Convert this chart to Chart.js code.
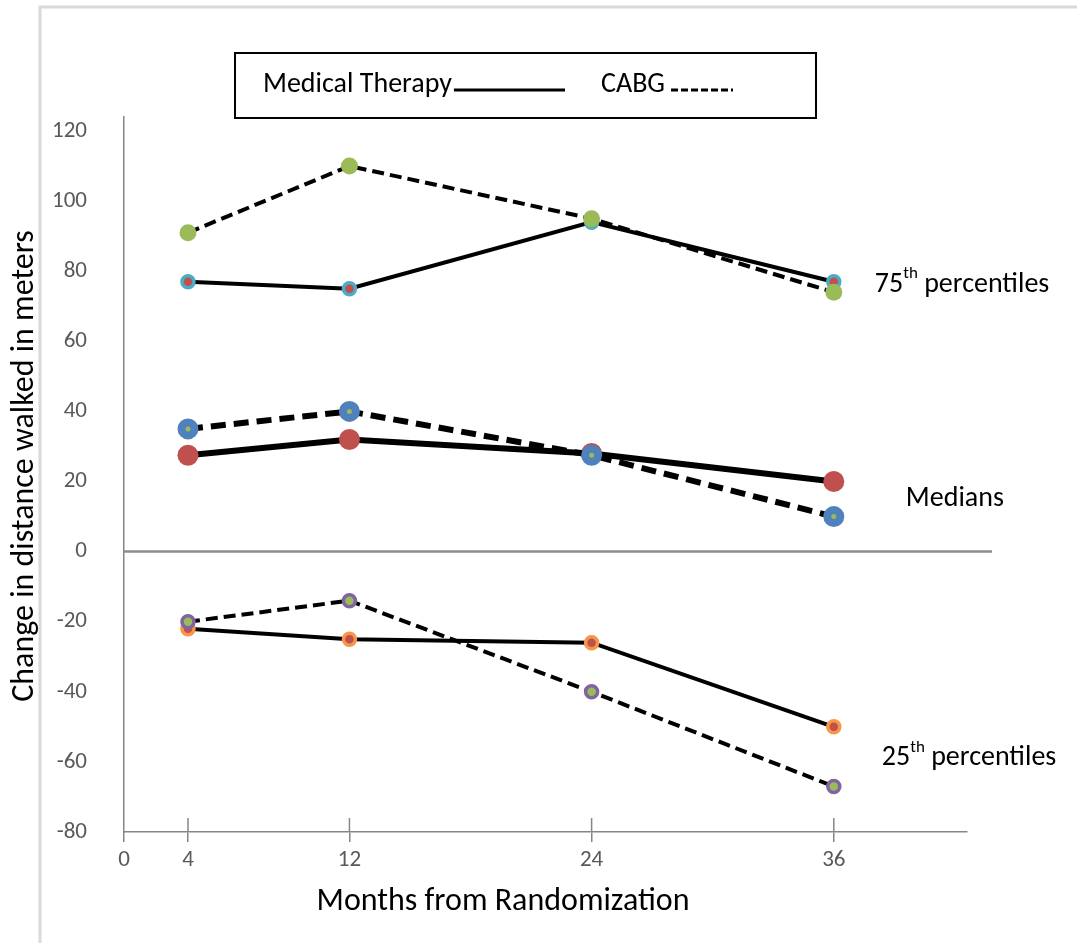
<!DOCTYPE html>
<html>
<head>
<meta charset="utf-8">
<script src="https://cdn.jsdelivr.net/npm/chart.js@4.4.1/dist/chart.umd.min.js"></script>
<style>
    html, body { margin: 0; padding: 0; background: #fff; }
</style>
</head>
<body>
<canvas id="id_walk" width="1077" height="943"></canvas>
<script>
// months after randomization and the values
var months = [4, 12, 24, 36];
var xTickLabels = ["0", "4", "12", "24", "36"];
var yTicks = [-80, -60, -40, -20, 0, 20, 40, 60, 80, 100, 120];

var mt75 = [77, 75, 94, 77];
var cabg75 = [91, 110, 95, 74];
var mtMedian = [27.5, 32, 28, 20];
var cabgMedian = [35, 40, 27.5, 10];
var mt25 = [-22, -25, -26, -50];
var cabg25 = [-20, -14, -40, -67];

(function() {
    "use strict";
    var FONT = "Carlito, Calibri, Lato, sans-serif";
    var AXIS_GRAY = "#868686";

    var points = function(values) {
        return values.map(function(v, i) { return {x: months[i], y: v}; });
    };

    var line = function(values, opts) {
        return Object.assign({
            data: points(values),
            borderColor: "#000",
            fill: false,
            tension: 0
        }, opts);
    };

    var frame = {
        id: "frame",
        beforeDraw: function(chart) {
            var ctx = chart.ctx;
            ctx.save();
            ctx.fillStyle = "#fff";
            ctx.fillRect(0, 0, chart.width, chart.height);
            ctx.strokeStyle = "#d9d9d9";
            ctx.lineWidth = 3;
            ctx.beginPath();
            ctx.moveTo(40, chart.height);
            ctx.lineTo(40, 7);
            ctx.lineTo(chart.width, 7);
            ctx.stroke();
            ctx.restore();
        },
        beforeDatasetsDraw: function(chart) {
            var ctx = chart.ctx, area = chart.chartArea;
            var xs = chart.scales.x, ys = chart.scales.y;
            var y0 = ys.getPixelForValue(0);
            ctx.save();
            // zero line runs a little past the plot
            ctx.strokeStyle = "#8c8c8c";
            ctx.lineWidth = 2.5;
            ctx.beginPath();
            ctx.moveTo(area.left, y0);
            ctx.lineTo(area.right + 25, y0);
            ctx.stroke();
            // x tick marks poke up above the axis too
            ctx.strokeStyle = AXIS_GRAY;
            ctx.lineWidth = 1.5;
            months.forEach(function(m) {
                var px = xs.getPixelForValue(m);
                ctx.beginPath();
                ctx.moveTo(px, area.bottom - 14);
                ctx.lineTo(px, area.bottom);
                ctx.stroke();
            });
            ctx.restore();
        },
        afterDraw: function(chart) {
            var ctx = chart.ctx;
            var xs = chart.scales.x, ys = chart.scales.y;
            ctx.save();

            // axis titles (sit a bit off centre in the original)
            ctx.fillStyle = "#000";
            ctx.textBaseline = "middle";
            ctx.textAlign = "center";
            ctx.font = "32px " + FONT;
            ctx.fillText("Months from Randomization", 503, 902);
            ctx.save();
            ctx.translate(25, 466);
            ctx.rotate(-Math.PI / 2);
            ctx.fillText("Change in distance walked in meters", 0, 0);
            ctx.restore();
            ctx.textAlign = "left";

            // legend box
            ctx.strokeStyle = "#000";
            ctx.lineWidth = 2;
            ctx.strokeRect(235, 53, 581, 65);
            ctx.font = "28px " + FONT;
            ctx.fillText("Medical Therapy", 263, 85);
            var w1 = ctx.measureText("Medical Therapy").width;
            ctx.lineWidth = 3;
            ctx.beginPath();
            ctx.moveTo(263 + w1 + 2, 90);
            ctx.lineTo(565, 90);
            ctx.stroke();
            ctx.fillText("CABG", 601, 85);
            var w2 = ctx.measureText("CABG").width;
            ctx.setLineDash([7, 3]);
            ctx.beginPath();
            ctx.moveTo(601 + w2 + 6, 90);
            ctx.lineTo(733, 90);
            ctx.stroke();
            ctx.setLineDash([]);

            // group labels at the right
            var sup = function(num, sfx, rest, x, y) {
                ctx.font = "28px " + FONT;
                ctx.fillText(num, x, y);
                x += ctx.measureText(num).width;
                ctx.font = "17px " + FONT;
                ctx.fillText(sfx, x, y - 11);
                x += ctx.measureText(sfx).width;
                ctx.font = "28px " + FONT;
                ctx.fillText(rest, x, y);
            };
            var xr = xs.getPixelForValue(36);
            sup("75", "th", " percentiles", xr + 41, ys.getPixelForValue(76));
            ctx.font = "28px " + FONT;
            ctx.fillText("Medians", xr + 72, ys.getPixelForValue(15));
            sup("25", "th", " percentiles", xr + 48, ys.getPixelForValue(-59));
            ctx.restore();
        }
    };

    var ctx = document.getElementById("id_walk").getContext("2d");
    new Chart(ctx, {
        type: "line",
        data: {
            datasets: [
                line(cabg75, {
                    order: 0, borderWidth: 4, borderDash: [12, 6],
                    pointRadius: 8.5, pointBorderWidth: 0,
                    pointBackgroundColor: "#9bbb59", pointBorderColor: "#9bbb59"
                }),
                line(cabgMedian, {
                    order: 0, borderWidth: 6, borderDash: [15, 8],
                    pointRadius: 6.5, pointBorderWidth: 8,
                    pointBackgroundColor: "#9bbb59", pointBorderColor: "#4f81bd"
                }),
                line(cabg25, {
                    order: 0, borderWidth: 4, borderDash: [12, 6],
                    pointRadius: 6, pointBorderWidth: 3.5,
                    pointBackgroundColor: "#9bbb59", pointBorderColor: "#8064a2"
                }),
                line(mt75, {
                    order: 1, borderWidth: 4,
                    pointRadius: 6, pointBorderWidth: 3.5,
                    pointBackgroundColor: "#c0504d", pointBorderColor: "#4bacc6"
                }),
                line(mtMedian, {
                    order: 1, borderWidth: 6,
                    pointRadius: 10.5, pointBorderWidth: 0,
                    pointBackgroundColor: "#c0504d", pointBorderColor: "#c0504d"
                }),
                line(mt25, {
                    order: 1, borderWidth: 4,
                    pointRadius: 6, pointBorderWidth: 3.5,
                    pointBackgroundColor: "#c0504d", pointBorderColor: "#f79646"
                })
            ]
        },
        options: {
            responsive: false,
            animation: false,
            devicePixelRatio: 1,
            layout: {padding: {top: 117, right: 110, left: 0, bottom: 0}},
            plugins: {legend: {display: false}, tooltip: {enabled: false}},
            scales: {
                x: {
                    type: "linear",
                    min: 0.83,
                    max: 42.6,
                    afterBuildTicks: function(s) {
                        s.ticks = [s.min].concat(months).map(function(v) { return {value: v}; });
                    },
                    afterFit: function(s) { s.height = 111; },
                    border: {color: AXIS_GRAY, width: 1.5},
                    grid: {drawOnChartArea: false, drawTicks: true, tickLength: 10, color: AXIS_GRAY, lineWidth: 1.5},
                    ticks: {
                        padding: 4,
                        color: "#595959",
                        font: {size: 23, family: FONT},
                        maxRotation: 0,
                        callback: function(v, i) { return xTickLabels[i]; }
                    },
                    title: {display: false}
                },
                y: {
                    type: "linear",
                    min: -80,
                    max: 124,
                    afterBuildTicks: function(s) {
                        s.ticks = yTicks.map(function(v) { return {value: v}; });
                    },
                    afterFit: function(s) { s.width = 124; },
                    border: {color: AXIS_GRAY, width: 1.5},
                    grid: {drawOnChartArea: false, drawTicks: false},
                    ticks: {
                        padding: 37,
                        color: "#595959",
                        font: {size: 23, family: FONT}
                    },
                    title: {display: false}
                }
            }
        },
        plugins: [frame]
    });
})();
</script>
</body>
</html>
